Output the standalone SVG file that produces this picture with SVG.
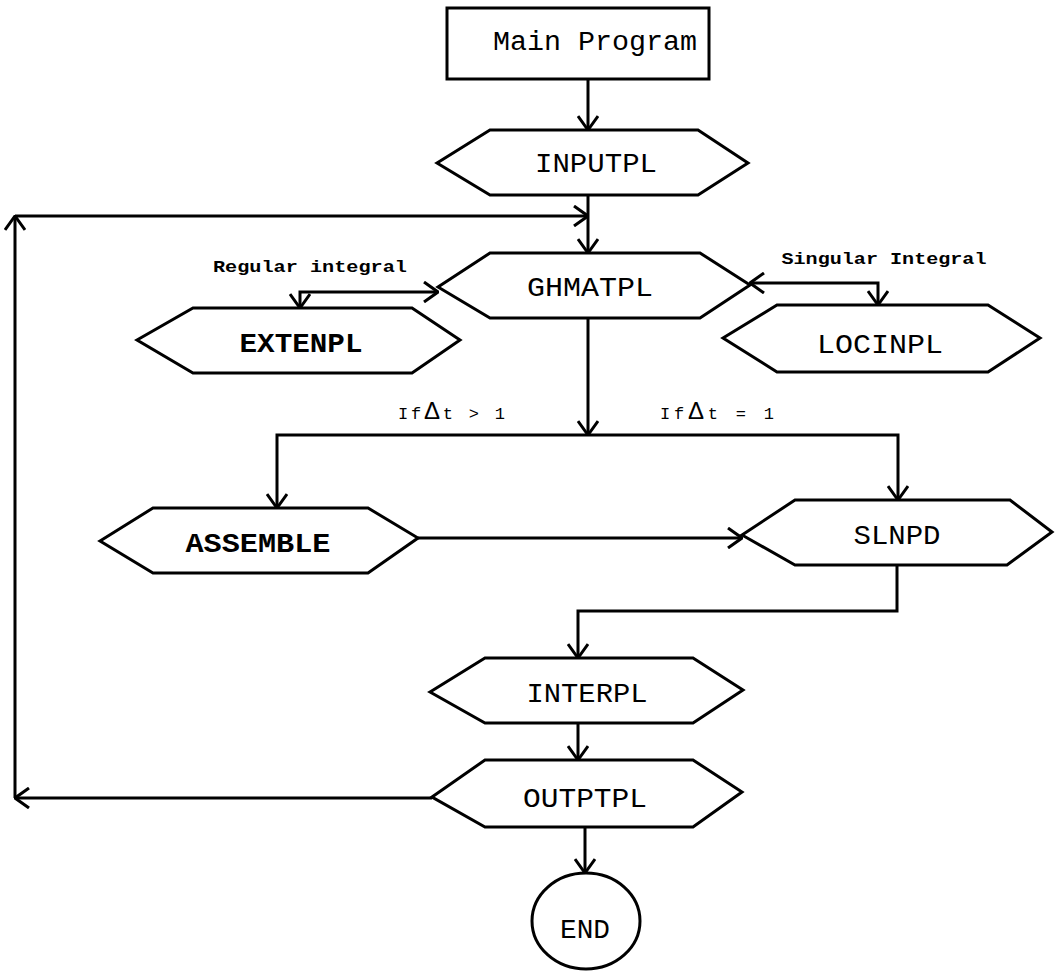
<svg xmlns="http://www.w3.org/2000/svg" width="1055" height="971" viewBox="0 0 1055 971">
<style>
.shape{fill:#fff;stroke:#000;stroke-width:3;stroke-linejoin:miter}
.conn{fill:none;stroke:#000;stroke-width:3}
.arr{marker-end:url(#ah)}
.lbl{font-family:"Liberation Mono","Courier New",monospace;font-size:27px;fill:#000;text-anchor:middle}
.b{font-weight:bold}
.sm{font-family:"Liberation Mono","Courier New",monospace;font-size:17px;font-weight:bold;fill:#000;text-anchor:middle}
.cond{font-family:"Liberation Mono","Courier New",monospace;font-size:17px;fill:#000}
</style>
<defs>
<marker id="ah" viewBox="0 0 16 22" refX="15" refY="11" markerWidth="16" markerHeight="22" markerUnits="userSpaceOnUse" orient="auto-start-reverse">
<path d="M1,1 L15,11 L1,21" fill="none" stroke="#000" stroke-width="3"/>
</marker>
</defs>
<g id="connectors">
<path class="conn arr" d="M588,80 V130"/>
<path class="conn arr" d="M588,195 V253"/>
<path class="conn arr" d="M432,798 H15"/>
<path class="conn arr" d="M15,798 V216"/>
<path class="conn arr" d="M15,216 H588"/>
<path class="conn arr" d="M300,308 V292 H438" marker-start="url(#ah)"/>
<path class="conn arr" d="M750,283 H878 V305" marker-start="url(#ah)"/>
<path class="conn arr" d="M588,318 V435"/>
<path class="conn arr" d="M277,508 V435 H898 V500" marker-start="url(#ah)"/>
<path class="conn arr" d="M418,538 H742"/>
<path class="conn arr" d="M897,565 V611 H578 V658"/>
<path class="conn arr" d="M578,723 V760"/>
<path class="conn arr" d="M585,827 V873"/>
<text class="sm" x="310" y="272" textLength="194" lengthAdjust="spacingAndGlyphs">Regular integral</text>
<text class="sm" x="884" y="264" textLength="205" lengthAdjust="spacingAndGlyphs">Singular Integral</text>
<text class="cond" x="398" y="419" textLength="107">If<tspan font-size="24" font-family="Liberation Sans, sans-serif">Δ</tspan>t &gt; 1</text>
<text class="cond" x="660" y="419" textLength="114">If<tspan font-size="24" font-family="Liberation Sans, sans-serif">Δ</tspan>t = 1</text>
</g>
<g id="main">
<rect class="shape" x="447" y="8" width="262" height="71"/>
<text class="lbl" x="595" y="50" textLength="204" lengthAdjust="spacingAndGlyphs">Main Program</text>
</g>
<g id="inputpl">
<polygon class="shape" points="437,163 490,130 698,130 748,163 698,195 490,195"/>
<text class="lbl" x="596" y="172" textLength="122" lengthAdjust="spacingAndGlyphs">INPUTPL</text>
</g>
<g id="ghmatpl">
<polygon class="shape" points="438,287 490,253 700,253 750,285 700,318 490,318"/>
<text class="lbl" x="590" y="296" textLength="126" lengthAdjust="spacingAndGlyphs">GHMATPL</text>
</g>
<g id="extenpl">
<polygon class="shape" points="137,340 193,308 412,308 460,340 412,373 193,373"/>
<text class="lbl b" x="301" y="352" textLength="123" lengthAdjust="spacingAndGlyphs">EXTENPL</text>
</g>
<g id="locinpl">
<polygon class="shape" points="723,338 777,305 988,305 1040,338 988,372 777,372"/>
<text class="lbl" x="880" y="353" textLength="126" lengthAdjust="spacingAndGlyphs">LOCINPL</text>
</g>
<g id="assemble">
<polygon class="shape" points="100,541 153,508 368,508 418,538 368,573 153,573"/>
<text class="lbl b" x="258" y="552" textLength="145" lengthAdjust="spacingAndGlyphs">ASSEMBLE</text>
</g>
<g id="slnpd">
<polygon class="shape" points="742,535 795,500 1010,500 1052,532 1007,565 795,565"/>
<text class="lbl" x="897" y="544" textLength="87" lengthAdjust="spacingAndGlyphs">SLNPD</text>
</g>
<g id="interpl">
<polygon class="shape" points="430,692 485,658 693,658 743,690 693,723 485,723"/>
<text class="lbl" x="587" y="702" textLength="121" lengthAdjust="spacingAndGlyphs">INTERPL</text>
</g>
<g id="outptpl">
<polygon class="shape" points="432,797 485,760 693,760 742,792 693,827 485,827"/>
<text class="lbl" x="585" y="807" textLength="124" lengthAdjust="spacingAndGlyphs">OUTPTPL</text>
</g>
<g id="end">
<ellipse class="shape" cx="586" cy="921" rx="54" ry="48"/>
<text class="lbl" x="585" y="938" textLength="50" lengthAdjust="spacingAndGlyphs">END</text>
</g>
</svg>
